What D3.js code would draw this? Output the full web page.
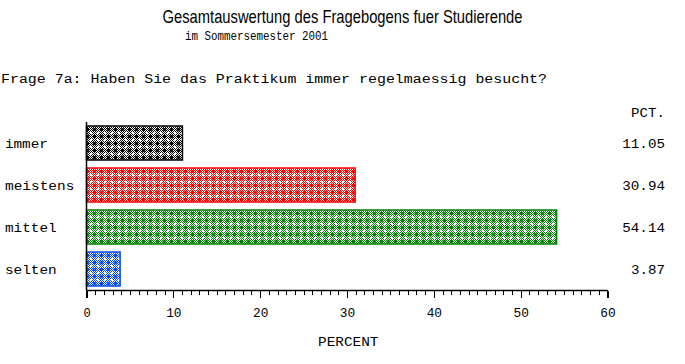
<!DOCTYPE html>
<html><head><meta charset="utf-8">
<script src="https://cdn.jsdelivr.net/npm/d3@7"></script>
<style>body{margin:0;background:#fff}svg{display:block}</style>
</head><body>
<svg id="c" width="685" height="364"></svg>
<script>
const categories = ["immer", "meistens", "mittel", "selten"];
const values = [11.05, 30.94, 54.14, 3.87];
const valueLabels = ["11.05", "30.94", "54.14", "3.87"];
const colors = ["#000000", "#ff0000", "#008000", "#0047ff"];
const tickValues = [0, 10, 20, 30, 40, 50, 60];
const title = "Gesamtauswertung des Fragebogens fuer Studierende";
const subtitle = "im Sommersemester 2001";
const question = "Frage 7a: Haben Sie das Praktikum immer regelmaessig besucht?";
const xLabel = "PERCENT";
const valueHeader = "PCT.";

const svg = d3.select("#c");
const mono = "'Liberation Mono', 'DejaVu Sans Mono', monospace";
const CW = 8.85;

const x = d3.scaleLinear().domain([0, 60]).range([86.5, 607.5]);
const y = d3.scaleBand().domain(categories).range([122, 290]).paddingInner(8/42).paddingOuter(4/42);

// patterns
const defs = svg.append("defs");
colors.forEach((c, i) => {
  const p = defs.append("pattern").attr("id", "pat" + i)
    .attr("patternUnits", "userSpaceOnUse").attr("width", 14).attr("height", 14)
    .attr("x", 0).attr("y", 0);
  p.append("rect").attr("width", 14).attr("height", 14).attr("fill", "#fff");
  let d = "";
  for (let yy = 0; yy < 14; yy++) for (let xx = 0; xx < 14; xx++) {
    if ((xx + yy) % 2 === 0) d += `M${xx},${yy}h1v1h-1z`;
  }
  p.append("path").attr("d", d).attr("fill", c).attr("shape-rendering", "crispEdges");
  [[0,0],[7,0],[0,7],[7,7],[14,0],[0,14],[14,14],[7,14],[14,7]].forEach(([a,b]) => {
    p.append("rect").attr("x", a-1).attr("y", b-1).attr("width", 2).attr("height", 2).attr("fill", "#fff");
  });
  [[3.5,3.5],[10.5,3.5],[3.5,10.5],[10.5,10.5]].forEach(([a,b]) => {
    p.append("circle").attr("cx", a).attr("cy", b).attr("r", 1.7).attr("fill", c);
  });
});

// titles
svg.append("text").attr("x", 342.5).attr("y", 23).attr("text-anchor", "middle")
  .attr("font-family", "'Liberation Sans', Arial, sans-serif").attr("font-size", 19)
  .attr("textLength", 360).attr("lengthAdjust", "spacingAndGlyphs").text(title);
svg.append("text").attr("x", 185).attr("y", 40)
  .attr("font-family", mono).attr("font-size", 12)
  .attr("textLength", 143).attr("lengthAdjust", "spacingAndGlyphs").text(subtitle);
svg.append("text").attr("x", 1).attr("y", 83)
  .attr("font-family", mono).attr("font-size", 12)
  .attr("textLength", 546).attr("lengthAdjust", "spacingAndGlyphs").text(question);

// bars
svg.selectAll("rect.bar").data(categories).join("rect").attr("class", "bar")
  .attr("x", x(0)).attr("y", d => y(d))
  .attr("width", (d, i) => x(values[i]) - x(0))
  .attr("height", y.bandwidth())
  .attr("fill", (d, i) => `url(#pat${i})`)
  .attr("stroke", (d, i) => colors[i]).attr("stroke-width", 1.5);

// category labels
svg.selectAll("text.cat").data(categories).join("text").attr("class", "cat")
  .attr("x", 5).attr("y", d => y(d) + y.bandwidth() / 2 + 5)
  .attr("font-family", mono).attr("font-size", 12)
  .attr("textLength", d => d.length * CW - 1.5).attr("lengthAdjust", "spacingAndGlyphs")
  .text(d => d);

// value labels
svg.append("text").attr("x", 665).attr("y", 117).attr("text-anchor", "end")
  .attr("font-family", mono).attr("font-size", 12)
  .attr("textLength", valueHeader.length * CW - 1.5).attr("lengthAdjust", "spacingAndGlyphs")
  .text(valueHeader);
svg.selectAll("text.val").data(categories).join("text").attr("class", "val")
  .attr("x", 665).attr("y", d => y(d) + y.bandwidth() / 2 + 5).attr("text-anchor", "end")
  .attr("font-family", mono).attr("font-size", 12)
  .attr("textLength", (d, i) => valueLabels[i].length * CW - 1.5).attr("lengthAdjust", "spacingAndGlyphs")
  .text((d, i) => valueLabels[i]);

// y axis line
svg.append("line").attr("x1", 86.5).attr("x2", 86.5).attr("y1", 122).attr("y2", 290.5)
  .attr("stroke", "#000").attr("stroke-width", 1.5);

// x axis
const minor = d3.range(0, 61, 1);
const axMinor = svg.append("g").attr("transform", "translate(0,290.5)")
  .call(d3.axisBottom(x).tickValues(minor).tickSize(4).tickFormat(""));
axMinor.select(".domain").remove();
axMinor.selectAll("line").attr("stroke-width", 1).attr("shape-rendering", "crispEdges");
const ax = svg.append("g").attr("transform", "translate(0,290.5)")
  .call(d3.axisBottom(x).tickValues(tickValues).tickSize(7).tickSizeOuter(0).tickPadding(11).tickFormat(d3.format("d")));
ax.select(".domain").attr("stroke-width", 1.5).attr("d", `M${x(0)},0H${x(60)+0.5}`);
ax.selectAll("line").attr("stroke-width", 1.2).attr("shape-rendering", "crispEdges");
ax.selectAll("text").attr("font-family", mono).attr("font-size", 12).attr("fill", "#000")
  .attr("textLength", function() { return this.textContent.length * 8.2 - 1; })
  .attr("lengthAdjust", "spacingAndGlyphs");

svg.append("text").attr("x", 318).attr("y", 346)
  .attr("font-family", mono).attr("font-size", 12)
  .attr("textLength", xLabel.length * CW - 1.5).attr("lengthAdjust", "spacingAndGlyphs")
  .text(xLabel);
</script>
</body></html>
